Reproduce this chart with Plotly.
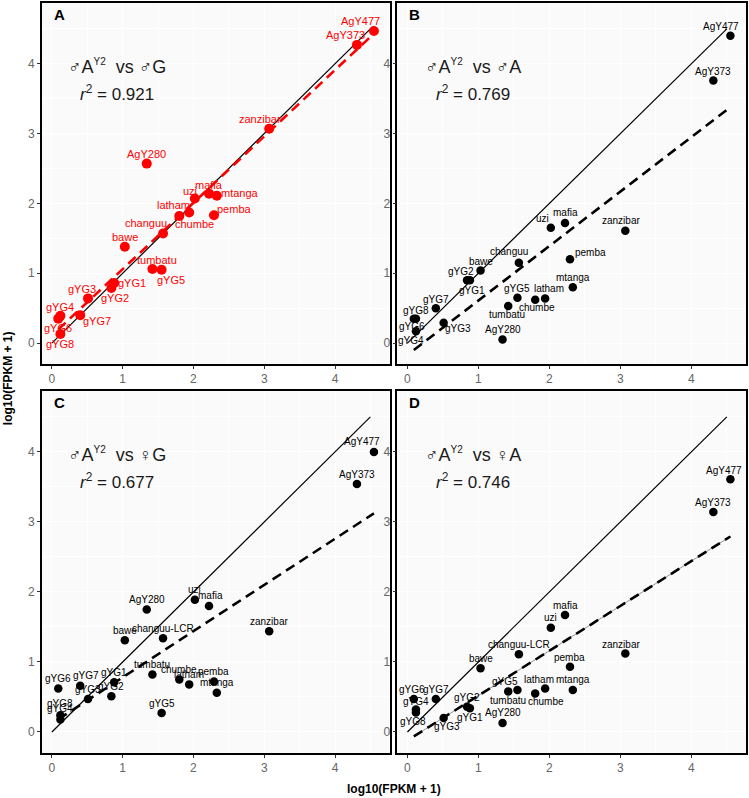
import plotly.graph_objects as go

# ---------------- data ----------------
genes = ["AgY477", "AgY373", "zanzibar", "AgY280", "uzi", "mafia", "mtanga", "latham",
         "chumbe", "pemba", "changuu", "bawe", "tumbatu", "gYG5", "gYG1", "gYG2",
         "gYG3", "gYG7", "gYG4", "gYG6", "gYG8"]
labels_AB = genes
labels_CD = [g if g != "changuu" else "changuu-LCR" for g in genes]

# x: male A^Y2 log10(FPKM+1)
male_AY2 = [4.55, 4.31, 3.07, 1.34, 2.02, 2.22, 2.33, 1.94, 1.80, 2.29, 1.57, 1.03,
            1.42, 1.55, 0.88, 0.84, 0.51, 0.40, 0.12, 0.09, 0.12]
male_G = [4.47, 4.27, 3.07, 2.57, 2.07, 2.14, 2.11, 1.87, 1.82, 1.83, 1.57, 1.38,
          1.06, 1.05, 0.86, 0.79, 0.64, 0.40, 0.39, 0.35, 0.13]
male_A = [4.40, 3.76, 1.61, 0.05, 1.65, 1.72, 0.80, 0.64, 0.62, 1.20, 1.15, 1.04,
          0.53, 0.65, 0.90, 0.90, 0.29, 0.50, 0.17, 0.35, 0.35]
female_G = [4.00, 3.54, 1.44, 1.75, 1.89, 1.80, 0.56, 0.68, 0.75, 0.72, 1.34, 1.31,
            0.82, 0.27, 0.71, 0.51, 0.47, 0.66, 0.18, 0.62, 0.24]
female_A = [3.61, 3.14, 1.12, 0.13, 1.49, 1.67, 0.60, 0.62, 0.55, 0.93, 1.11, 0.91,
            0.58, 0.60, 0.34, 0.36, 0.20, 0.47, 0.32, 0.47, 0.28]

panel_letters = ["A", "B", "C", "D"]
SUP = "<sup><span style='font-size:10px'>Y2</span></sup>"
comparisons = ["♂A" + SUP + "  vs ♂G", "♂A" + SUP + "  vs ♂A",
               "♂A" + SUP + "  vs ♀G", "♂A" + SUP + "  vs ♀A"]
r2_values = [0.921, 0.769, 0.677, 0.746]
fit_intercept = [0.11, -0.17, 0.12, -0.12]
fit_slope = [0.95, 0.78, 0.66, 0.64]
identity_range = [0, 4.5]

x_ticks = [0, 1, 2, 3, 4]
y_ticks = [0, 1, 2, 3, 4]

# ---------------- styling ----------------
# label offsets in screen px (dx right, dy down)
off_A = [(-13, -10), (-11, -10), (-9, -10), (0, -10), (-5, -8), (0, -9), (23, -3), (-16, -8),
         (15, 8), (21, -6), (-17, -10), (0, -10), (5, -9), (9, 10), (18, 0), (4, 10),
         (-6, -9), (17, 6), (0, -9), (0, 9), (0, 10)]
off_B = [(-9, -9), (0, -9), (-4, -10), (0, -10), (-8, -9), (0, -10), (0, -10), (4, -10),
         (2, 8), (21, -7), (-10, -11), (0, -9), (-1, 8), (0, -9), (2, 10), (-6, -9),
         (14, 6), (0, -9), (-5, 9), (-2, 8), (0, -8)]
off_C = [(-12, -10), (0, -10), (0, -10), (0, -10), (0, -10), (1, -10), (0, -10), (0, -10),
         (0, -10), (0, -10), (0, -10), (0, -10), (0, -10), (0, -10), (0, -10), (0, -10),
         (0, -10), (6, -10), (0, -11), (0, -10), (0, -12)]
off_D = [(-6, -9), (0, -10), (-4, -9), (0, -10), (0, -10), (0, -10), (0, -10), (-6, -9),
         (11, 8), (0, -9), (0, -10), (0, -10), (0, 9), (-12, -8), (0, 9), (0, -9),
         (3, 9), (0, -10), (0, -8), (-2, -10), (-3, 9)]

panels = [
    dict(y=male_G, labels=labels_AB, off=off_A, color="#FF0000", msize=10, lfs=11),
    dict(y=male_A, labels=labels_AB, off=off_B, color="black", msize=8.5, lfs=10),
    dict(y=female_G, labels=labels_CD, off=off_C, color="black", msize=8.5, lfs=10),
    dict(y=female_A, labels=labels_CD, off=off_D, color="black", msize=8.5, lfs=10),
]

FONT = "Liberation Sans, Arial, Helvetica, sans-serif"
L, R, T, B = 42, 2, 1, 45
W, H = 749, 798
pw, ph = W - L - R, H - T - B
x_domains = [[0, 348 / pw], [356 / pw, 1.0]]
y_domains = [[(753 - 363) / ph, 1.0], [0, 363 / ph]]
xrange = [-0.14, 4.77]
yrange = [-0.3, 4.87]

fig = go.Figure()
layout = {}
annotations = []

for i, p in enumerate(panels):
    row, col = divmod(i, 2)
    sfx = "" if i == 0 else str(i + 1)
    xa, ya = "x" + sfx, "y" + sfx
    xmin, xmax = min(male_AY2), max(male_AY2)
    # identity line
    fig.add_trace(go.Scatter(x=identity_range, y=identity_range, mode="lines",
                             line=dict(color="black", width=1.2),
                             xaxis=xa, yaxis=ya, showlegend=False, hoverinfo="skip"))
    # regression line
    fx = [xmin, xmax]
    fy = [fit_intercept[i] + fit_slope[i] * v for v in fx]
    if i == 3:
        fig.add_trace(go.Scatter(x=fx, y=fy, mode="lines",
                                 line=dict(color="#777777", width=0.8),
                                 xaxis=xa, yaxis=ya, showlegend=False, hoverinfo="skip"))
    fig.add_trace(go.Scatter(x=fx, y=fy, mode="lines",
                             line=dict(color=p["color"], width=2.6, dash="10px,6px"),
                             xaxis=xa, yaxis=ya, showlegend=False, hoverinfo="skip"))
    # points
    fig.add_trace(go.Scatter(x=male_AY2, y=p["y"], mode="markers",
                             marker=dict(color=p["color"], size=p["msize"]),
                             xaxis=xa, yaxis=ya, showlegend=False, text=p["labels"]))
    # labels
    for xv, yv, lab, (dx, dy) in zip(male_AY2, p["y"], p["labels"], p["off"]):
        annotations.append(dict(x=xv, y=yv, xref=xa, yref=ya, text=lab, showarrow=False,
                                xshift=dx, yshift=-dy, xanchor="center", yanchor="middle",
                                font=dict(family=FONT, size=p["lfs"], color=p["color"])))
    # comparison label and r2
    annotations.append(dict(x=0.92, y=3.96, xref=xa, yref=ya, text=comparisons[i],
                            showarrow=False, xanchor="center", yanchor="middle",
                            font=dict(family=FONT, size=18, color="#1a1a1a")))
    annotations.append(dict(x=0.92, y=3.58, xref=xa, yref=ya,
                            text="<i>r</i><sup>2</sup> = %.3f" % r2_values[i],
                            showarrow=False, xanchor="center", yanchor="middle",
                            font=dict(family=FONT, size=17, color="#1a1a1a")))
    # panel letter
    annotations.append(dict(x=0.028, y=0.998, xref=xa + " domain", yref=ya + " domain",
                            text="<b>%s</b>" % panel_letters[i], showarrow=False,
                            xanchor="left", yanchor="top",
                            font=dict(family=FONT, size=15, color="black")))

    axis_common = dict(showline=True, mirror=True, linecolor="black", linewidth=1.8,
                       ticks="outside", ticklen=3, tickcolor="#333333", tickwidth=1,
                       tickfont=dict(family=FONT, size=12, color="#666666"),
                       showgrid=True, gridcolor="white", gridwidth=1, zeroline=False,
                       minor=dict(showgrid=True, gridcolor="white", gridwidth=0.5,
                                  dtick=0.5, ticks=""))
    layout["xaxis" + sfx] = dict(domain=x_domains[col], range=xrange, tickvals=x_ticks,
                                 anchor=ya, **axis_common)
    layout["yaxis" + sfx] = dict(domain=y_domains[row], range=yrange, tickvals=y_ticks,
                                 anchor=xa, **axis_common)

annotations.append(dict(x=0.5, y=-0.048, xref="paper", yref="paper",
                        text="<b>log10(FPKM + 1)</b>", showarrow=False,
                        xanchor="center", yanchor="middle",
                        font=dict(family=FONT, size=12, color="black")))
annotations.append(dict(x=-0.048, y=0.5, xref="paper", yref="paper",
                        text="<b>log10(FPKM + 1)</b>", showarrow=False, textangle=-90,
                        xanchor="center", yanchor="middle",
                        font=dict(family=FONT, size=12, color="black")))

fig.update_layout(width=W, height=H, margin=dict(l=L, r=R, t=T, b=B),
                  paper_bgcolor="white", plot_bgcolor="#FAFAFA",
                  annotations=annotations, **layout)
fig.write_html("out.html", config={"displayModeBar": False},
               post_script="document.body.style.margin='0px';document.body.style.overflow='hidden';")
